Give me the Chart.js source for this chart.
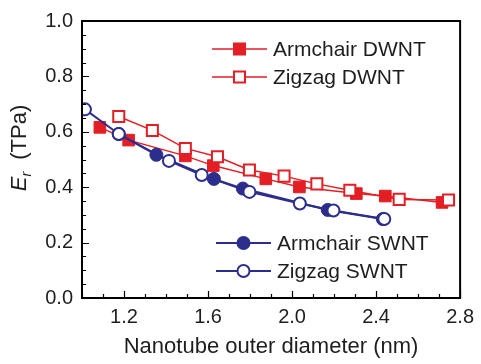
<!DOCTYPE html>
<html>
<head>
<meta charset="utf-8">
<script src="https://cdn.jsdelivr.net/npm/chart.js@4"></script>
<style>
  html, body { margin: 0; padding: 0; background: #fff; }
  #wrap { width: 481px; height: 364px; }
</style>
</head>
<body>
<div id="wrap"><canvas id="chart" width="481" height="364"></canvas></div>
<script>
// values
const armDwX = [1.085, 1.222, 1.492, 1.625, 1.875, 2.035, 2.306, 2.444, 2.714];
const armDwY = [0.616, 0.570, 0.513, 0.478, 0.430, 0.401, 0.377, 0.368, 0.345];
const zigDwX = [1.175, 1.335, 1.492, 1.645, 1.797, 1.962, 2.118, 2.275, 2.510, 2.745];
const zigDwY = [0.655, 0.605, 0.540, 0.510, 0.462, 0.440, 0.412, 0.389, 0.356, 0.354];
const armSwX = [1.175, 1.354, 1.628, 1.766, 2.170, 2.432];
const armSwY = [0.592, 0.517, 0.430, 0.395, 0.318, 0.285];
const zigSwX = [1.014, 1.175, 1.414, 1.570, 1.797, 2.037, 2.197, 2.439];
const zigSwY = [0.681, 0.592, 0.495, 0.444, 0.383, 0.341, 0.316, 0.285];

const xTicks = [1.2, 1.6, 2.0, 2.4, 2.8];
const yTicks = [0.0, 0.2, 0.4, 0.6, 0.8, 1.0];

const RED = '#e31e24';
const BLUE = '#2b2e8c';
const TXT = '#1e1e1e';
const FONT = '"Liberation Sans", Arial, Helvetica, sans-serif';

const pts = (xs, ys) => xs.map((x, i) => ({ x: x, y: ys[i] }));

// frame, inward ticks, y title and the two legends
const decor = {
    id: 'decor',
    afterDatasetsDraw(chart) {
        const ctx = chart.ctx;
        const a = chart.chartArea;
        const xs = chart.scales.x, ys = chart.scales.y;
        ctx.save();
        ctx.strokeStyle = '#000';
        ctx.lineWidth = 1.2;
        ctx.beginPath();
        for (let i = 0; i <= 18; i++) {
            const v = 1.0 + i * 0.1;
            const px = Math.round(xs.getPixelForValue(v)) + 0.5;
            const major = xTicks.some(t => Math.abs(t - v) < 1e-6);
            ctx.moveTo(px, a.bottom);
            ctx.lineTo(px, a.bottom - (major ? 7 : 4));
        }
        for (let i = 0; i <= 20; i++) {
            const v = i * 0.05;
            const py = Math.round(ys.getPixelForValue(v)) + 0.5;
            const major = i % 4 === 0;
            ctx.moveTo(a.left, py);
            ctx.lineTo(a.left + (major ? 7 : 4), py);
        }
        ctx.stroke();

        ctx.lineWidth = 2;
        ctx.strokeRect(a.left, a.top, a.right - a.left, a.bottom - a.top);

        // y axis title: E_r (TPa)
        ctx.save();
        ctx.translate(20, 148);
        ctx.rotate(-Math.PI / 2);
        ctx.fillStyle = TXT;
        ctx.textBaseline = 'middle';
        ctx.font = 'italic 22px ' + FONT;
        const wE = ctx.measureText('E').width;
        ctx.font = 'italic 14px ' + FONT;
        const wr = ctx.measureText('r').width;
        ctx.font = '22px ' + FONT;
        const wT = ctx.measureText('  (TPa)').width;
        let x0 = -(wE + wr + wT) / 2;
        ctx.font = 'italic 22px ' + FONT;
        ctx.fillText('E', x0, 0);
        ctx.font = 'italic 14px ' + FONT;
        ctx.fillText('r', x0 + wE, 7);
        ctx.font = '22px ' + FONT;
        ctx.fillText('  (TPa)', x0 + wE + wr, 0);
        ctx.restore();

        // legends
        const item = (x1, x2, y, color, shape, filled, label) => {
            ctx.strokeStyle = color;
            ctx.lineWidth = color === RED ? 1.5 : 2;
            ctx.beginPath();
            ctx.moveTo(x1, y);
            ctx.lineTo(x2, y);
            ctx.stroke();
            const cx = (x1 + x2) / 2;
            ctx.fillStyle = filled ? color : '#fff';
            ctx.lineWidth = 2;
            ctx.beginPath();
            if (shape === 'rect') ctx.rect(cx - 5.5, y - 5.5, 11, 11);
            else ctx.arc(cx, y, 6, 0, Math.PI * 2);
            ctx.fill();
            ctx.stroke();
            ctx.fillStyle = TXT;
            ctx.font = '21px ' + FONT;
            ctx.textBaseline = 'middle';
            ctx.fillText(label, x2 + 6, y + 1);
        };
        item(212, 267, 49, RED, 'rect', true, 'Armchair DWNT');
        item(212, 267, 77, RED, 'rect', false, 'Zigzag DWNT');
        item(216, 271, 243, BLUE, 'circle', true, 'Armchair SWNT');
        item(216, 271, 271, BLUE, 'circle', false, 'Zigzag SWNT');
        ctx.restore();
    }
};

const datasets = [
    {
        label: 'Zigzag SWNT', data: pts(zigSwX, zigSwY), order: 0,
        borderColor: BLUE, borderWidth: 2, pointStyle: 'circle', pointRadius: 6,
        pointBorderWidth: 2, pointBackgroundColor: '#fff', pointBorderColor: BLUE
    },
    {
        label: 'Armchair SWNT', data: pts(armSwX, armSwY), order: 1,
        borderColor: BLUE, borderWidth: 2, pointStyle: 'circle', pointRadius: 6.5,
        pointBorderWidth: 1, pointBackgroundColor: BLUE, pointBorderColor: BLUE
    },
    {
        label: 'Zigzag DWNT', data: pts(zigDwX, zigDwY), order: 2,
        borderColor: RED, borderWidth: 1.5, pointStyle: 'rect', pointRadius: 7.8,
        pointBorderWidth: 2, pointBackgroundColor: '#fff', pointBorderColor: RED
    },
    {
        label: 'Armchair DWNT', data: pts(armDwX, armDwY), order: 3,
        borderColor: RED, borderWidth: 1.5, pointStyle: 'rect', pointRadius: 8.2,
        pointBorderWidth: 1, pointBackgroundColor: RED, pointBorderColor: RED
    }
];

new Chart(document.getElementById('chart'), {
    type: 'scatter',
    data: { datasets: datasets.map(d => Object.assign({ showLine: true, fill: false, tension: 0 }, d)) },
    options: {
        responsive: false,
        animation: false,
        layout: { padding: { top: 16, right: 16, left: 0, bottom: 0 } },
        plugins: { legend: { display: false }, tooltip: { enabled: false } },
        scales: {
            x: {
                type: 'linear', min: 1.0, max: 2.8,
                grid: { display: false, drawTicks: false },
                border: { display: false },
                afterBuildTicks: s => { s.ticks = xTicks.map(v => ({ value: v })); },
                afterFit: s => { s.height = 66; },
                ticks: {
                    padding: 7, color: TXT, font: { family: FONT, size: 20 },
                    maxRotation: 0, autoSkip: false,
                    callback: v => v.toFixed(1)
                },
                title: {
                    display: true, text: 'Nanotube outer diameter (nm)', color: TXT,
                    font: { family: FONT, size: 22 }, padding: { top: 0, bottom: 4 }
                }
            },
            y: {
                type: 'linear', min: 0, max: 1.0,
                grid: { display: false, drawTicks: false },
                border: { display: false },
                afterBuildTicks: s => { s.ticks = yTicks.map(v => ({ value: v })); },
                afterFit: s => { s.width = 82; },
                ticks: {
                    padding: 9, color: TXT, font: { family: FONT, size: 20 },
                    autoSkip: false,
                    callback: v => v.toFixed(1)
                }
            }
        }
    },
    plugins: [decor]
});
</script>
</body>
</html>
